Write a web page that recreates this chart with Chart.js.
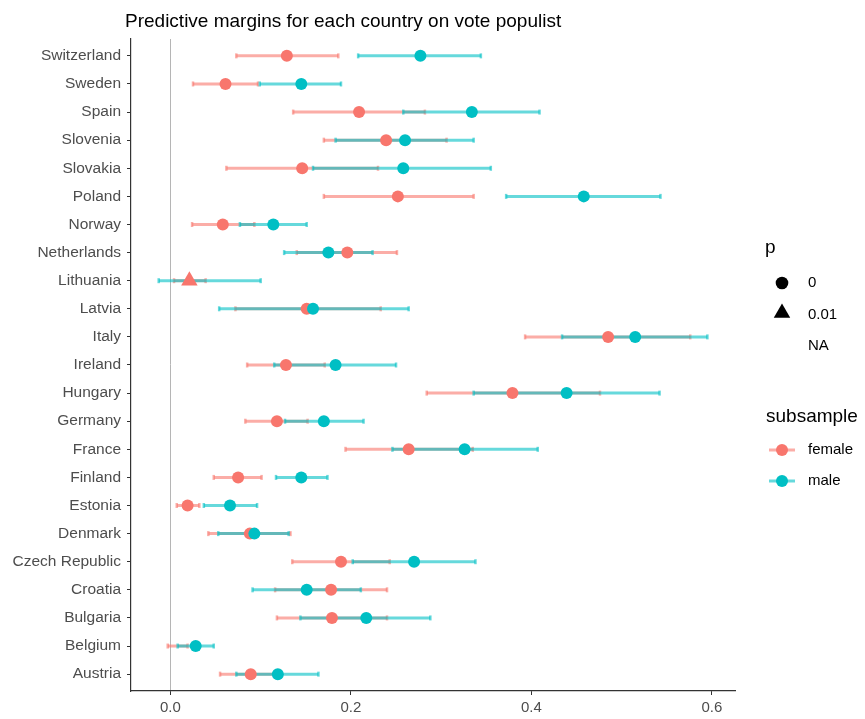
<!DOCTYPE html>
<html>
<head>
<meta charset="utf-8">
<script src="https://cdn.jsdelivr.net/npm/chart.js@4"></script>
<style>
  html, body { margin: 0; padding: 0; background: #ffffff; }
  #wrap { width: 865px; height: 719px; position: relative; }
</style>
</head>
<body>
<div id="wrap"><canvas id="chart" width="865" height="719"></canvas></div>
<script>
// Countries, top to bottom
const countries = ['Switzerland', 'Sweden', 'Spain', 'Slovenia', 'Slovakia', 'Poland', 'Norway',
  'Netherlands', 'Lithuania', 'Latvia', 'Italy', 'Ireland', 'Hungary', 'Germany', 'France',
  'Finland', 'Estonia', 'Denmark', 'Czech Republic', 'Croatia', 'Bulgaria', 'Belgium', 'Austria'];

// Predictive margins (estimate and 95% interval) by subsample
const femaleEst = [0.129, 0.061, 0.209, 0.239, 0.146, 0.252, 0.058, 0.196, 0.021, 0.151, 0.485, 0.128,
  0.379, 0.118, 0.264, 0.075, 0.019, 0.088, 0.189, 0.178, 0.179, null, 0.089];
const femaleLo = [0.073, 0.025, 0.136, 0.170, 0.062, 0.170, 0.024, 0.140, 0.004, 0.072, 0.393, 0.085,
  0.284, 0.083, 0.194, 0.048, 0.007, 0.042, 0.135, 0.116, 0.118, -0.003, 0.055];
const femaleHi = [0.186, 0.097, 0.282, 0.306, 0.230, 0.336, 0.093, 0.251, 0.039, 0.233, 0.576, 0.171,
  0.476, 0.152, 0.335, 0.101, 0.032, 0.133, 0.243, 0.240, 0.240, 0.019, 0.123];
const femaleP = [0, 0, 0, 0, 0, 0, 0, 0, 0.01, 0, 0, 0, 0, 0, 0, 0, 0, 0, 0, 0, 0, null, 0];

const maleEst = [0.277, 0.145, 0.334, 0.260, 0.258, 0.458, 0.114, 0.175, null, 0.158, 0.515, 0.183,
  0.439, 0.170, 0.326, 0.145, 0.066, 0.093, 0.270, 0.151, 0.217, 0.028, 0.119];
const maleLo = [0.208, 0.099, 0.258, 0.183, 0.158, 0.372, 0.077, 0.126, -0.013, 0.054, 0.434, 0.115,
  0.336, 0.127, 0.246, 0.117, 0.037, 0.053, 0.202, 0.091, 0.144, 0.008, 0.073];
const maleHi = [0.344, 0.189, 0.409, 0.336, 0.355, 0.543, 0.151, 0.224, 0.100, 0.264, 0.595, 0.250,
  0.542, 0.214, 0.407, 0.174, 0.096, 0.131, 0.338, 0.211, 0.288, 0.048, 0.164];
const maleP = [0, 0, 0, 0, 0, 0, 0, 0, null, 0, 0, 0, 0, 0, 0, 0, 0, 0, 0, 0, 0, 0, 0];

const xTicks = [0, 0.2, 0.4, 0.6];
const pLevels = ['0', '0.01', 'NA'];
const subsamples = ['female', 'male'];
const titleText = 'Predictive margins for each country on vote populist';

const FEMALE = '#F8766D';
const MALE = '#00BFC4';
const FONT = '"Liberation Sans", Arial, sans-serif';

function shapeFor(p) { return p === 0.01 ? 'triangle' : 'circle'; }
function radiusFor(p) { return p === 0.01 ? 9.5 : 6; }

function points(est, p) {
  return est.map((v, i) => ({ x: (v === null || p[i] === null) ? null : v, y: i }));
}

const series = [
  { label: 'female', color: FEMALE, est: femaleEst, lo: femaleLo, hi: femaleHi, p: femaleP, order: 2 },
  { label: 'male', color: MALE, est: maleEst, lo: maleLo, hi: maleHi, p: maleP, order: 1 }
];

function rgba(hex, a) {
  const n = parseInt(hex.slice(1), 16);
  return `rgba(${(n >> 16) & 255},${(n >> 8) & 255},${n & 255},${a})`;
}

// Whiskers with small end caps, drawn under the points
const errorBars = {
  id: 'errorBars',
  beforeDatasetsDraw(chart) {
    const { ctx, scales: { x, y } } = chart;
    ctx.save();
    series.forEach(s => {
      ctx.strokeStyle = rgba(s.color, 0.6);
      s.lo.forEach((lo, i) => {
        const hi = s.hi[i];
        const py = y.getPixelForValue(i);
        const x0 = x.getPixelForValue(lo);
        const x1 = x.getPixelForValue(hi);
        ctx.lineWidth = 3;
        ctx.lineCap = 'butt';
        ctx.beginPath();
        ctx.moveTo(x0, py);
        ctx.lineTo(x1, py);
        ctx.stroke();
        ctx.lineWidth = 2.5;
        [x0, x1].forEach(cx => {
          ctx.beginPath();
          ctx.moveTo(cx, py - 2.5);
          ctx.lineTo(cx, py + 2.5);
          ctx.stroke();
        });
      });
    });
    ctx.restore();
  }
};

// Title and the two legends on the right
const decorations = {
  id: 'decorations',
  afterDraw(chart) {
    const ctx = chart.ctx;
    ctx.save();
    ctx.fillStyle = '#000000';
    ctx.textBaseline = 'alphabetic';
    ctx.textAlign = 'left';
    ctx.font = `19px ${FONT}`;
    ctx.fillText(titleText, 125, 27);

    // legend: p
    ctx.font = `19px ${FONT}`;
    ctx.fillText('p', 765, 253);
    ctx.font = `15px ${FONT}`;
    ctx.textBaseline = 'middle';
    const pY = [283, 315, 346];
    pLevels.forEach((lab, i) => {
      ctx.fillStyle = '#000000';
      ctx.fillText(lab, 808, pY[i]);
    });
    ctx.fillStyle = '#000000';
    ctx.beginPath();
    ctx.arc(782, pY[0], 6.3, 0, Math.PI * 2);
    ctx.fill();
    const r = 9.5;
    ctx.beginPath();
    ctx.moveTo(782, pY[1] - 2 - r);
    ctx.lineTo(782 + r * Math.sin(2 * Math.PI / 3), pY[1] - 2 + r / 2);
    ctx.lineTo(782 - r * Math.sin(2 * Math.PI / 3), pY[1] - 2 + r / 2);
    ctx.closePath();
    ctx.fill();

    // legend: subsample
    ctx.textBaseline = 'alphabetic';
    ctx.font = `19px ${FONT}`;
    ctx.fillText('subsample', 766, 422);
    ctx.font = `15px ${FONT}`;
    ctx.textBaseline = 'middle';
    const sY = [450, 481];
    subsamples.forEach((lab, i) => {
      const col = series[i].color;
      ctx.strokeStyle = rgba(col, 0.6);
      ctx.lineWidth = 3;
      ctx.beginPath();
      ctx.moveTo(769, sY[i]);
      ctx.lineTo(795, sY[i]);
      ctx.stroke();
      ctx.fillStyle = col;
      ctx.beginPath();
      ctx.arc(782, sY[i], 6, 0, Math.PI * 2);
      ctx.fill();
      ctx.fillStyle = '#000000';
      ctx.fillText(lab, 808, sY[i]);
    });
    ctx.restore();
  }
};

new Chart(document.getElementById('chart'), {
  type: 'scatter',
  data: {
    datasets: series.map(s => ({
      label: s.label,
      data: points(s.est, s.p),
      order: s.order,
      pointStyle: s.p.map(shapeFor),
      pointRadius: s.p.map(radiusFor),
      pointBackgroundColor: s.color,
      pointBorderWidth: 0,
      pointBorderColor: s.color,
      showLine: false
    }))
  },
  options: {
    responsive: false,
    animation: false,
    events: [],
    layout: { padding: { top: 39, right: 130, bottom: 0, left: 0 } },
    plugins: { legend: { display: false }, tooltip: { enabled: false }, title: { display: false } },
    scales: {
      x: {
        type: 'linear',
        min: -0.0437,
        max: 0.6256,
        afterBuildTicks: sc => { sc.ticks = xTicks.map(v => ({ value: v })); },
        afterFit: sc => { sc.height = 28; },
        ticks: {
          callback: v => Number(v).toFixed(1),
          font: { family: FONT, size: 15 },
          color: '#4d4d4d',
          padding: 4,
          maxRotation: 0
        },
        grid: {
          drawOnChartArea: true,
          color: c => (c.tick && c.tick.value === 0 ? '#b5b5b5' : 'rgba(0,0,0,0)'),
          lineWidth: 1,
          tickColor: '#333333',
          tickLength: 4
        },
        border: { display: true, color: '#333333', width: 1.2 }
      },
      y: {
        type: 'linear',
        reverse: true,
        min: -0.6,
        max: countries.length - 0.4,
        afterBuildTicks: sc => { sc.ticks = countries.map((_, i) => ({ value: i })); },
        afterFit: sc => { sc.width = 131; },
        ticks: {
          autoSkip: false,
          callback: v => countries[v],
          font: { family: FONT, size: 15.5 },
          color: '#4d4d4d',
          padding: 6
        },
        grid: {
          drawOnChartArea: false,
          tickColor: '#333333',
          tickLength: 4
        },
        border: { display: true, color: '#333333', width: 1.2 }
      }
    }
  },
  plugins: [errorBars, decorations]
});
</script>
</body>
</html>
